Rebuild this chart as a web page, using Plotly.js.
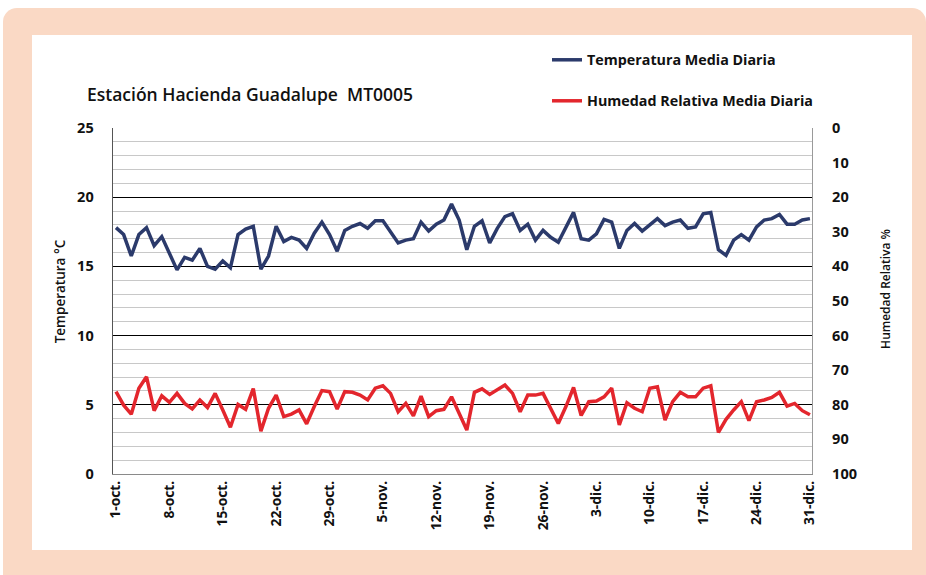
<!DOCTYPE html>
<html>
<head>
<meta charset="utf-8">
<script src="https://cdn.plot.ly/plotly-3.0.1.min.js"></script>
<style>
  html, body { margin: 0; padding: 0; background: #ffffff; }
  #frame { position: absolute; left: 3px; top: 8px; width: 923px; height: 567px; background: #fad9c5; border-radius: 14px 14px 0 0; }
  #panel { position: absolute; left: 32px; top: 35px; width: 880px; height: 515px; background: #ffffff; }
  #chart { position: absolute; left: 0; top: 0; width: 926px; height: 575px; }
</style>
</head>
<body>
<div id="frame"></div>
<div id="panel"></div>
<div id="chart"></div>
<script>
// ---- Data ----
const startDate = '2012-10-01';
const nDays = 92; // 1-oct .. 31-dic

const temperatura = [
  17.8, 17.3, 15.75, 17.3, 17.8, 16.5, 17.15, 15.9, 14.75, 15.65,
  15.45, 16.3, 15.0, 14.8, 15.4, 14.9, 17.3, 17.7, 17.9, 14.8,
  15.75, 17.9, 16.8, 17.1, 16.9, 16.3, 17.4, 18.2, 17.3, 16.1,
  17.6, 17.9, 18.1, 17.75, 18.3, 18.3, 17.5, 16.7, 16.9, 17.0,
  18.2, 17.55, 18.05, 18.35, 19.5, 18.35, 16.2, 17.9, 18.3, 16.7,
  17.75, 18.6, 18.8, 17.6, 18.05, 16.9, 17.6, 17.1, 16.75, 17.85,
  18.9, 17.0, 16.9, 17.35, 18.4, 18.2, 16.3, 17.6, 18.1, 17.55,
  18.0, 18.45, 17.95, 18.2, 18.35, 17.75, 17.85, 18.8, 18.9, 16.2,
  15.8, 16.9, 17.3, 16.9, 17.85, 18.35, 18.45, 18.75, 18.05, 18.05,
  18.35, 18.45
];

const humedad = [
  76.2, 80.1, 82.7, 75.2, 71.9, 81.7, 77.4, 79.3, 76.7, 79.6,
  81.2, 78.6, 80.8, 76.7, 81.5, 86.5, 79.9, 81.3, 75.3, 87.6,
  81.0, 77.2, 83.4, 82.7, 81.5, 85.5, 80.5, 75.9, 76.2, 81.2,
  76.2, 76.4, 77.2, 78.6, 75.2, 74.5, 76.7, 82.0, 79.6, 83.2,
  77.5, 83.4, 81.7, 81.3, 77.7, 82.5, 87.3, 76.4, 75.4, 77.0,
  75.7, 74.3, 76.7, 82.0, 77.2, 77.2, 76.7, 81.0, 85.4, 80.5,
  75.0, 83.1, 79.1, 78.9, 77.7, 75.2, 85.8, 79.4, 81.0, 82.0,
  75.2, 74.8, 84.4, 79.1, 76.4, 77.7, 77.7, 75.2, 74.5, 88.0,
  84.2, 81.5, 79.1, 84.6, 79.1, 78.6, 77.9, 76.4, 80.4, 79.6,
  81.7, 82.9
];

const tickLabels = ['1-oct.', '8-oct.', '15-oct.', '22-oct.', '29-oct.', '5-nov.', '12-nov.',
                    '19-nov.', '26-nov.', '3-dic.', '10-dic.', '17-dic.', '24-dic.', '31-dic.'];
const tickDates = ['2012-10-01', '2012-10-08', '2012-10-15', '2012-10-22', '2012-10-29', '2012-11-05', '2012-11-12',
                   '2012-11-19', '2012-11-26', '2012-12-03', '2012-12-10', '2012-12-17', '2012-12-24', '2012-12-31'];

const titleText = 'Estación Hacienda Guadalupe  MT0005';
const nameTemp = 'Temperatura Media Diaria';
const nameHum = 'Humedad Relativa Media Diaria';
const yTitleLeft = 'Temperatura °C';
const yTitleRight = 'Humedad Relativa %';

// build the date categories
const fechas = [];
{
  const d0 = new Date(startDate + 'T00:00:00Z');
  for (let i = 0; i < nDays; i++) {
    const d = new Date(d0.getTime() + i * 86400000);
    fechas.push(d.toISOString().slice(0, 10));
  }
}

const FONT = 'Open Sans, Liberation Sans, Arial, sans-serif';

const traces = [
  {
    x: fechas, y: temperatura, name: nameTemp, type: 'scatter', mode: 'lines',
    line: { color: '#2b3a6b', width: 3.5 }, yaxis: 'y', legend: 'legend'
  },
  {
    x: fechas, y: humedad, name: nameHum, type: 'scatter', mode: 'lines',
    line: { color: '#e3262d', width: 3.5 }, yaxis: 'y2', legend: 'legend2'
  }
];

const layout = {
  width: 926, height: 575,
  paper_bgcolor: 'rgba(0,0,0,0)', plot_bgcolor: 'rgba(0,0,0,0)',
  margin: { l: 113, r: 114, t: 128, b: 101, pad: 0, autoexpand: false },
  title: {
    text: titleText, xref: 'container', yref: 'container',
    x: 87 / 926, xanchor: 'left', y: 1 - 95 / 575, yanchor: 'middle',
    font: { family: FONT, size: 17.5, color: '#111111', weight: 600 }
  },
  showlegend: true,
  legend: {
    xref: 'container', yref: 'container', x: 547 / 926, y: 1 - 60 / 575,
    xanchor: 'left', yanchor: 'middle', bgcolor: 'rgba(0,0,0,0)',
    font: { family: FONT, size: 14.3, color: '#111111', weight: 700 }
  },
  legend2: {
    xref: 'container', yref: 'container', x: 547 / 926, y: 1 - 101 / 575,
    xanchor: 'left', yanchor: 'middle', bgcolor: 'rgba(0,0,0,0)',
    font: { family: FONT, size: 14.3, color: '#111111', weight: 700 }
  },
  xaxis: {
    type: 'date',
    range: ['2012-09-30 14:30', '2012-12-31 06:30'],
    tickmode: 'array', tickvals: tickDates, ticktext: tickLabels,
    tickangle: -90, ticks: '',
    tickfont: { family: FONT, size: 13.8, color: '#111111', weight: 700 },
    showgrid: false, zeroline: false,
    showline: true, linecolor: '#8a8a8a', linewidth: 1.2
  },
  yaxis: {
    range: [0, 25], dtick: 5, tick0: 0,
    showgrid: true, gridcolor: '#000000', gridwidth: 1.3,
    minor: { dtick: 1, showgrid: true, gridcolor: '#c8c8c8', gridwidth: 1 },
    ticks: '', ticklabelstandoff: 15,
    tickfont: { family: FONT, size: 14.5, color: '#111111', weight: 700 },
    zeroline: false, showline: true, linecolor: '#555555', linewidth: 1.4
  },
  yaxis2: {
    overlaying: 'y', side: 'right',
    range: [100, 0], dtick: 10, tick0: 0,
    showgrid: false, zeroline: false, ticks: '', ticklabelstandoff: 16,
    tickfont: { family: FONT, size: 14.5, color: '#111111', weight: 700 },
    showline: true, linecolor: '#9a9a9a', linewidth: 1.2
  },
  annotations: [
    { text: yTitleLeft, xref: 'paper', yref: 'paper', x: 0, xshift: -53, y: 0.528,
      xanchor: 'center', yanchor: 'middle', textangle: -90, showarrow: false,
      font: { family: FONT, size: 13.5, color: '#111111', weight: 600 } },
    { text: yTitleRight, xref: 'paper', yref: 'paper', x: 1, xshift: 74, y: 0.535,
      xanchor: 'center', yanchor: 'middle', textangle: -90, showarrow: false,
      font: { family: FONT, size: 12, color: '#111111', weight: 600 } }
  ]
};

Plotly.newPlot('chart', traces, layout, { displayModeBar: false, staticPlot: true });
</script>
</body>
</html>
